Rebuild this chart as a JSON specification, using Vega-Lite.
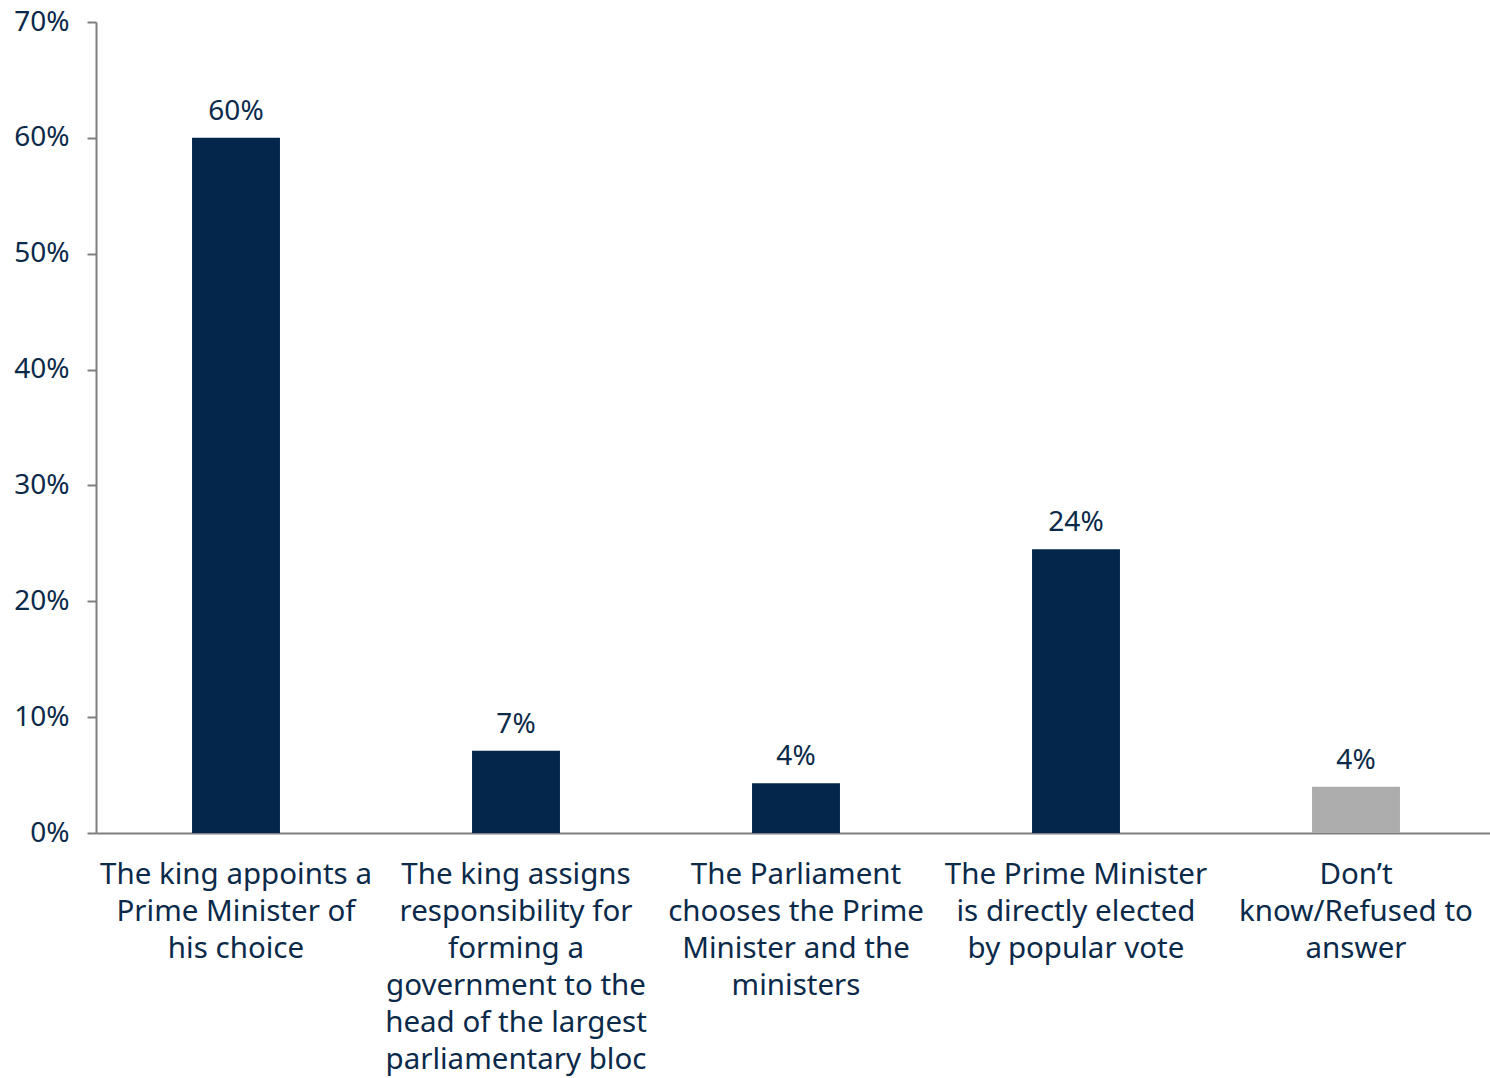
{
  "$schema": "https://vega.github.io/schema/vega-lite/v6.json",
  "width": 1394,
  "height": 811,
  "autosize": {"type": "none"},
  "padding": {"left": 96, "top": 22, "right": 0, "bottom": 245},
  "background": "white",
  "config": {
    "view": {"stroke": null},
    "font": "Noto Sans",
    "axis": {"grid": false}
  },
  "data": {
    "values": [
      {"cat": "The king appoints a|Prime Minister of|his choice", "value": 0.60, "label": "60%", "group": "answer"},
      {"cat": "The king assigns|responsibility for|forming a|government to the|head of the largest|parliamentary bloc", "value": 0.071, "label": "7%", "group": "answer"},
      {"cat": "The Parliament|chooses the Prime|Minister and the|ministers", "value": 0.043, "label": "4%", "group": "answer"},
      {"cat": "The Prime Minister|is directly elected|by popular vote", "value": 0.245, "label": "24%", "group": "answer"},
      {"cat": "Don’t|know/Refused to|answer", "value": 0.04, "label": "4%", "group": "dk"}
    ]
  },
  "encoding": {
    "x": {
      "field": "cat",
      "type": "nominal",
      "sort": null,
      "scale": {"paddingInner": 0.686, "paddingOuter": 0.343, "range": [0, 1400]},
      "axis": {
        "title": null,
        "labelAngle": 0,
        "ticks": false,
        "domainColor": "#7f7f7f",
        "domainWidth": 2,
        "labelExpr": "split(datum.label, '|')",
        "labelFont": "Noto Sans",
        "labelFontSize": 29.5,
        "labelColor": "#0B2A4A",
        "labelLineHeight": 37,
        "labelPadding": 27,
        "labelBaseline": "top",
        "labelLimit": 400
      }
    },
    "y": {
      "field": "value",
      "type": "quantitative",
      "scale": {"domain": [0, 0.7]},
      "axis": {
        "title": null,
        "format": ".0%",
        "values": [0, 0.1, 0.2, 0.3, 0.4, 0.5, 0.6, 0.7],
        "domainColor": "#7f7f7f",
        "domainWidth": 2,
        "tickColor": "#7f7f7f",
        "tickWidth": 2,
        "tickSize": 9,
        "labelFont": "Noto Sans",
        "labelFontSize": 28,
        "labelColor": "#0B2A4A",
        "labelPadding": 18
      }
    }
  },
  "layer": [
    {
      "mark": {"type": "bar"},
      "encoding": {
        "color": {
          "field": "group",
          "type": "nominal",
          "scale": {"domain": ["answer", "dk"], "range": ["#03264A", "#ADADAD"]},
          "legend": null
        }
      }
    },
    {
      "mark": {"type": "text", "baseline": "bottom", "dy": -12, "fontSize": 28, "font": "Noto Sans", "color": "#0B2A4A"},
      "encoding": {
        "text": {"field": "label"}
      }
    }
  ]
}
